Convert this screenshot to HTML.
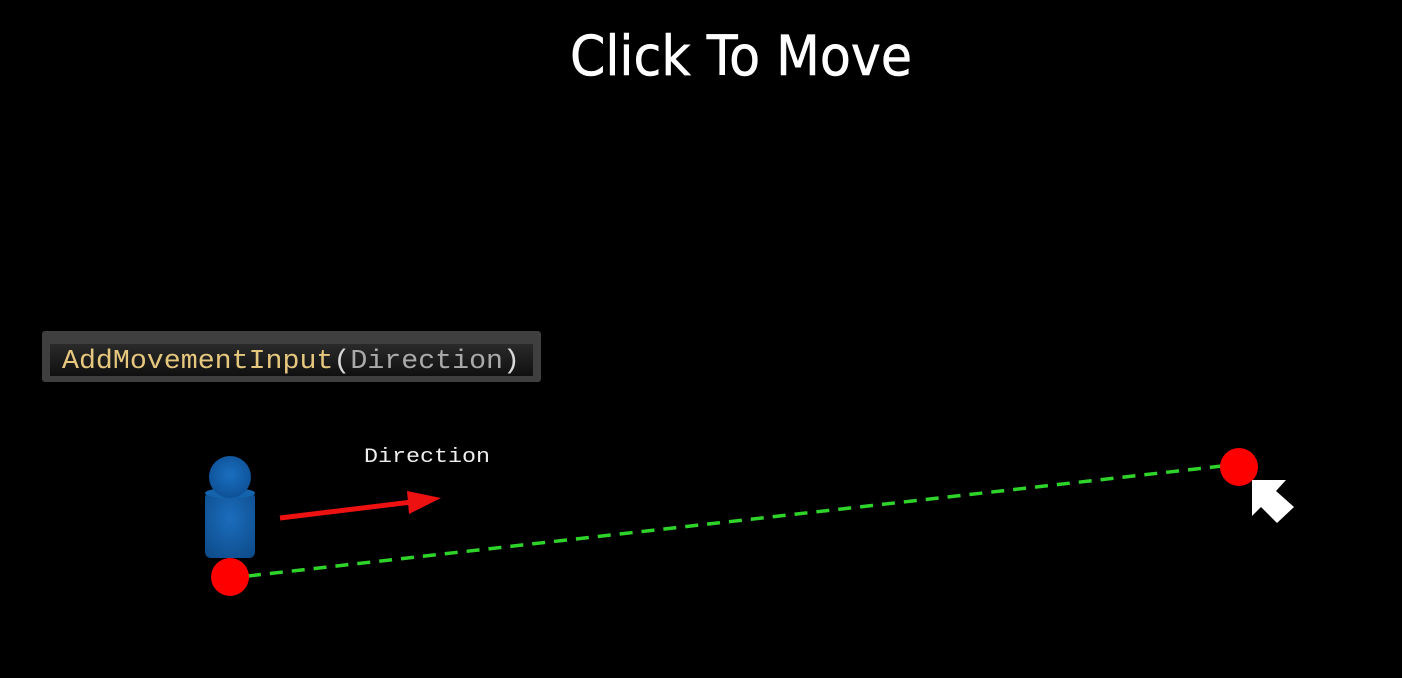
<!DOCTYPE html>
<html><head><meta charset="utf-8"><style>
html,body{margin:0;padding:0;background:#000;width:1402px;height:678px;overflow:hidden}
</style></head><body>
<svg width="1402" height="678" viewBox="0 0 1402 678" xmlns="http://www.w3.org/2000/svg">
<defs>
<radialGradient id="hg" cx="0.5" cy="0.45" r="0.6"><stop offset="0" stop-color="#1a6fc0"/><stop offset="1" stop-color="#0d4f94"/></radialGradient>
<radialGradient id="bg" cx="0.5" cy="0.4" r="0.7"><stop offset="0" stop-color="#1b6dbd"/><stop offset="1" stop-color="#0e4d8c"/></radialGradient>
<linearGradient id="box" x1="0" y1="0" x2="0" y2="1"><stop offset="0" stop-color="#2a2a2a"/><stop offset="1" stop-color="#101010"/></linearGradient>
</defs>
<text x="741" y="75" text-anchor="middle" font-family="DejaVu Sans, sans-serif" font-size="55" fill="#fff" stroke="#fff" stroke-width="0.6" textLength="342" lengthAdjust="spacingAndGlyphs">Click To Move</text>
<rect x="42" y="331" width="499" height="51" rx="3" fill="#3f3f3f"/>
<rect x="50" y="344" width="483" height="32" fill="url(#box)"/>
<text x="62" y="368" font-family="Liberation Mono, monospace" font-size="27" textLength="458" lengthAdjust="spacingAndGlyphs"><tspan fill="#e5c77e">AddMovementInput</tspan><tspan fill="#d8d8d8">(</tspan><tspan fill="#aaaaaa">Direction</tspan><tspan fill="#d8d8d8">)</tspan></text>
<text x="364" y="462" font-family="Liberation Mono, monospace" font-size="20" fill="#eee" textLength="126" lengthAdjust="spacingAndGlyphs">Direction</text>
<rect x="205" y="492" width="50" height="66" rx="6" fill="url(#bg)"/>
<ellipse cx="230" cy="493" rx="25" ry="5" fill="#1463ad"/>
<circle cx="230" cy="477" r="21" fill="url(#hg)"/>
<line x1="248" y1="576" x2="1222" y2="466" stroke="#2fd42a" stroke-width="3.5" stroke-dasharray="13,9"/>
<circle cx="230" cy="577" r="19" fill="#ff0000"/>
<circle cx="1239" cy="467" r="19" fill="#ff0000"/>
<line x1="280" y1="518" x2="412" y2="502" stroke="#ee1111" stroke-width="5"/>
<polygon points="441,498 407,491 409,514" fill="#ee1111"/>
<polygon points="1252,480 1286,480 1276,491 1294,507 1277,523 1261,507 1252,516" fill="#fff"/>
</svg>
</body></html>
